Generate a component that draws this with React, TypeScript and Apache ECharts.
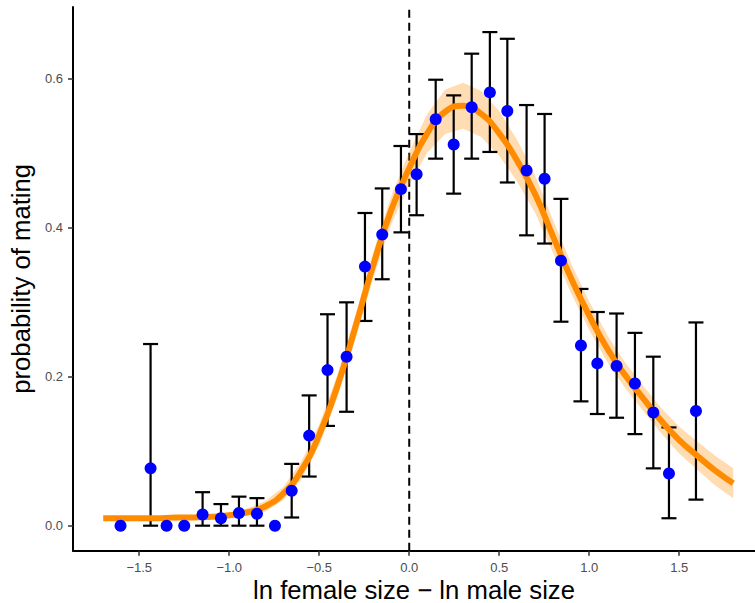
import React, { useEffect, useRef } from "react";
import * as echarts from "echarts";

// Binned observations
const binX = [-1.604, -1.437, -1.348, -1.25, -1.148, -1.046, -0.946, -0.846, -0.746, -0.653, -0.556, -0.454, -0.348, -0.246, -0.15, -0.046, 0.041, 0.147, 0.247, 0.347, 0.448, 0.545, 0.652, 0.752, 0.843, 0.954, 1.045, 1.152, 1.254, 1.356, 1.443, 1.593];
const binP = [0.0, 0.077, 0.0, 0.0, 0.015, 0.01, 0.017, 0.016, 0.0, 0.047, 0.121, 0.209, 0.227, 0.348, 0.391, 0.452, 0.472, 0.546, 0.512, 0.562, 0.582, 0.557, 0.477, 0.466, 0.356, 0.242, 0.218, 0.2145, 0.191, 0.152, 0.07, 0.154];
const errLow = [null, 0.0, null, null, 0.0, 0.0, 0.0, 0.0, null, 0.011, 0.066, 0.134, 0.153, 0.275, 0.331, 0.394, 0.417, 0.493, 0.446, 0.493, 0.502, 0.461, 0.39, 0.379, 0.274, 0.167, 0.15, 0.145, 0.123, 0.077, 0.01, 0.035];
const errHigh = [null, 0.244, null, null, 0.045, 0.029, 0.039, 0.037, null, 0.083, 0.175, 0.284, 0.3, 0.42, 0.453, 0.51, 0.526, 0.599, 0.578, 0.634, 0.663, 0.654, 0.565, 0.553, 0.439, 0.318, 0.287, 0.285, 0.259, 0.227, 0.132, 0.273];

// Fitted curve and its confidence band
const curveX = [-1.7, -1.6, -1.5, -1.4, -1.3, -1.2, -1.1, -1.0, -0.9, -0.8, -0.7, -0.6, -0.5, -0.4, -0.3, -0.2, -0.1, 0.0, 0.1, 0.2, 0.3, 0.4, 0.5, 0.6, 0.7, 0.8, 0.9, 1.0, 1.1, 1.2, 1.3, 1.4, 1.5, 1.6, 1.7, 1.8];
const curveP = [0.01, 0.01, 0.01, 0.01, 0.011, 0.011, 0.012, 0.014, 0.018, 0.026, 0.043, 0.074, 0.122, 0.187, 0.266, 0.35, 0.424, 0.48, 0.527, 0.556, 0.564, 0.553, 0.527, 0.49, 0.445, 0.388, 0.332, 0.282, 0.238, 0.202, 0.171, 0.141, 0.115, 0.094, 0.074, 0.057];
const bandLow = [0.007, 0.007, 0.007, 0.007, 0.008, 0.008, 0.009, 0.01, 0.013, 0.019, 0.034, 0.062, 0.108, 0.172, 0.25, 0.333, 0.405, 0.458, 0.501, 0.526, 0.533, 0.522, 0.497, 0.462, 0.42, 0.366, 0.312, 0.263, 0.22, 0.185, 0.154, 0.124, 0.097, 0.075, 0.054, 0.037];
const bandHigh = [0.013, 0.013, 0.013, 0.013, 0.014, 0.014, 0.015, 0.018, 0.023, 0.033, 0.052, 0.086, 0.136, 0.202, 0.282, 0.367, 0.443, 0.502, 0.553, 0.586, 0.595, 0.584, 0.557, 0.518, 0.47, 0.41, 0.352, 0.301, 0.256, 0.219, 0.188, 0.158, 0.133, 0.113, 0.094, 0.077];

const xTicks = [-1.5, -1.0, -0.5, 0.0, 0.5, 1.0, 1.5];
const yTicks = [0.0, 0.2, 0.4, 0.6];

const xTitle = "ln female size \u2212 ln male size";
const yTitle = "probability of mating";

const X_MIN = -1.868;
const X_MAX = 1.921;
const Y_MIN = -0.0336;
const Y_MAX = 0.6967;

const FONT = "Liberation Sans, Arial, Helvetica, sans-serif";

const fmt = (v: number) => {
  const s = Math.abs(v).toFixed(1);
  return v < -1e-9 ? "\u2212" + s : s;
};

export default function App() {
  const ref = useRef<HTMLDivElement>(null);

  useEffect(() => {
    if (!ref.current) return;
    const chart = echarts.init(ref.current, undefined, { renderer: "svg" });

    const errData = binX
      .map((x, i) => [x, errLow[i], errHigh[i]])
      .filter((d) => d[1] !== null && d[2] !== null);

    const option: any = {
      animation: false,
      backgroundColor: "#ffffff",
      grid: { left: 73, right: 0, top: 7, bottom: 52.3, containLabel: false, outerBoundsMode: "none" },
      graphic: [
        {
          type: "text",
          x: 414,
          y: 589.5,
          silent: true,
          style: {
            text: xTitle,
            fill: "#000",
            fontSize: 25.7,
            fontFamily: FONT,
            align: "center",
            verticalAlign: "middle",
          },
        },
      ],
      xAxis: {
        type: "value",
        min: X_MIN,
        max: X_MAX,
        axisLine: { show: true, onZero: false, lineStyle: { color: "#000", width: 2 } },
        axisTick: { show: true, length: 5, customValues: xTicks, lineStyle: { color: "#333", width: 1.5 } },
        axisLabel: {
          customValues: xTicks,
          formatter: (v: number) => fmt(v),
          color: "#4D4D4D",
          fontSize: 13,
          fontFamily: FONT,
          margin: 10,
        },
        splitLine: { show: false },
      },
      yAxis: {
        type: "value",
        min: Y_MIN,
        max: Y_MAX,
        axisLine: { show: true, onZero: false, lineStyle: { color: "#000", width: 2 } },
        axisTick: { show: true, length: 5, customValues: yTicks, lineStyle: { color: "#333", width: 1.5 } },
        axisLabel: {
          customValues: yTicks,
          formatter: (v: number) => fmt(v),
          color: "#4D4D4D",
          fontSize: 13,
          fontFamily: FONT,
          margin: 10,
        },
        splitLine: { show: false },
        name: yTitle,
        nameLocation: "middle",
        nameRotate: 90,
        nameGap: 37,
        nameTextStyle: { color: "#000", fontSize: 25.7, fontFamily: FONT },
      },
      series: [
        {
          type: "line",
          data: [
            [0, Y_MIN],
            [0, Y_MAX],
          ],
          symbol: "none",
          silent: true,
          z: 1,
          lineStyle: { color: "#000", width: 2, type: [8, 5] },
        },
        {
          type: "custom",
          silent: true,
          z: 2,
          data: [[0]],
          renderItem: (params: any, api: any) => {
            const pts: number[][] = [];
            for (let i = 0; i < curveX.length; i++) pts.push(api.coord([curveX[i], bandHigh[i]]));
            for (let i = curveX.length - 1; i >= 0; i--) pts.push(api.coord([curveX[i], bandLow[i]]));
            return {
              type: "polygon",
              shape: { points: pts },
              style: { fill: "rgba(255,140,0,0.3)", stroke: "none" },
            };
          },
        },
        {
          type: "custom",
          silent: true,
          z: 3,
          data: errData,
          encode: { x: 0, y: [1, 2] },
          renderItem: (params: any, api: any) => {
            const x = api.value(0);
            const lo = api.coord([x, api.value(1)]);
            const hi = api.coord([x, api.value(2)]);
            const hw = 7.5;
            const st = { stroke: "#000", lineWidth: 2.2 };
            return {
              type: "group",
              children: [
                { type: "line", shape: { x1: lo[0], y1: lo[1], x2: hi[0], y2: hi[1] }, style: st },
                { type: "line", shape: { x1: hi[0] - hw, y1: hi[1], x2: hi[0] + hw, y2: hi[1] }, style: st },
                { type: "line", shape: { x1: lo[0] - hw, y1: lo[1], x2: lo[0] + hw, y2: lo[1] }, style: st },
              ],
            };
          },
        },
        {
          type: "line",
          data: curveX.map((x, i) => [x, curveP[i]]),
          smooth: true,
          symbol: "none",
          silent: true,
          z: 4,
          lineStyle: { color: "#FF8C00", width: 6 },
        },
        {
          type: "scatter",
          data: binX.map((x, i) => [x, binP[i]]),
          symbol: "circle",
          symbolSize: 12,
          z: 5,
          itemStyle: { color: "#0000FF", opacity: 1 },
        },
      ],
    };

    chart.setOption(option);
    return () => chart.dispose();
  }, []);

  return (
    <div
      ref={ref}
      style={{ position: "fixed", left: 0, top: 0, width: 755, height: 603, background: "#fff" }}
    />
  );
}
